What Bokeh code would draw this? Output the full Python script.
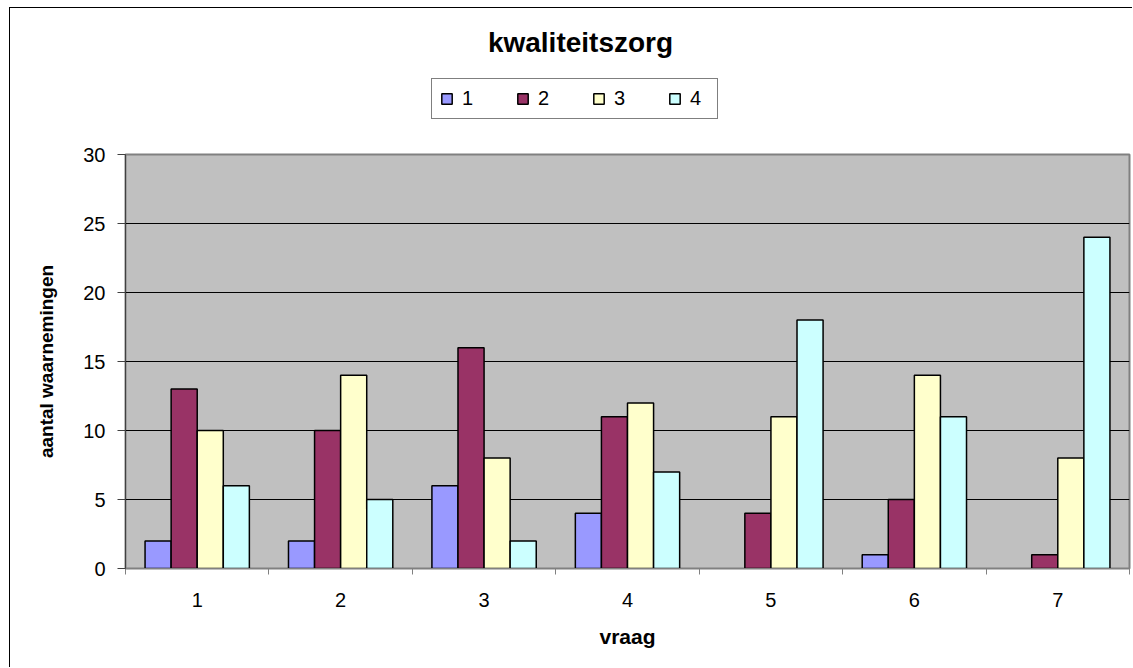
from bokeh.plotting import figure
from bokeh.models import ColumnDataSource, Range1d, FixedTicker, Legend, LegendItem, Label, Spacer
from bokeh.layouts import column, row
from bokeh.transform import dodge
from bokeh.embed import file_html
from bokeh.resources import INLINE

questions = [1, 2, 3, 4, 5, 6, 7]
series_names = ["1", "2", "3", "4"]
s1 = [2, 2, 6, 4, 0, 1, 0]
s2 = [13, 10, 16, 11, 4, 5, 1]
s3 = [10, 14, 8, 12, 11, 14, 8]
s4 = [6, 5, 2, 7, 18, 11, 24]
y_ticks = [0, 5, 10, 15, 20, 25, 30]
colors = ["#9999FF", "#993366", "#FFFFCC", "#CCFFFF"]
keys = ["s1", "s2", "s3", "s4"]

FONT = "Liberation Sans"

data = dict(x=questions, s1=s1, s2=s2, s3=s3, s4=s4)
for k in keys:
    data[k + "_la"] = [0 if v == 0 else 1 for v in data[k]]
src = ColumnDataSource(data)

w = 1 / 5.5

# ---------- header figure: title + legend ----------
top = figure(width=1123, height=132, x_range=Range1d(0.5, 7.5), y_range=Range1d(1000, 1001),
             output_backend="svg", toolbar_location=None,
             x_axis_type=None, y_axis_type=None,
             min_border_left=0, min_border_right=0, min_border_top=0, min_border_bottom=0)
top.outline_line_color = None
top.xgrid.visible = False
top.ygrid.visible = False
top.background_fill_color = "white"
top.styles = {"border-left": "1px solid #000000", "border-top": "1px solid #000000"}

leg_renderers = []
for i, (key, c) in enumerate(zip(keys, colors)):
    r = top.vbar(x=dodge("x", (i - 1.5) * w, range=top.x_range), top=key, width=w, source=src,
                 fill_color=c, line_color="black", line_width=1.5)
    leg_renderers.append(r)

top.add_layout(Label(x=455, y=98, x_units="screen", y_units="screen", text="kwaliteitszorg",
                     text_font=FONT, text_font_size="28px", text_font_style="bold",
                     text_color="black", text_align="center", text_baseline="middle"))

legend = Legend(items=[LegendItem(label=n, renderers=[r]) for n, r in zip(series_names, leg_renderers)],
                orientation="horizontal", location=(306, 21))
legend.margin = 0
legend.label_text_font = FONT
legend.label_text_font_size = "20px"
legend.label_text_color = "black"
legend.glyph_width = 13
legend.glyph_height = 13
legend.label_standoff = 9
legend.label_width = 19
legend.label_height = 18
legend.spacing = 35
legend.padding = 8
legend.border_line_color = "black"
legend.border_line_width = 1
legend.background_fill_color = "white"
legend.background_fill_alpha = 1
top.add_layout(legend, "center")

# ---------- main chart ----------
p = figure(width=1123, height=528,
           x_range=Range1d(0.5, 7.5), y_range=Range1d(0, 30),
           output_backend="svg", toolbar_location=None,
           min_border_left=115, min_border_right=4,
           min_border_top=15, min_border_bottom=99)

p.background_fill_color = "#C0C0C0"
p.border_fill_color = "white"
p.outline_line_color = "#808080"
p.outline_line_width = 2
p.styles = {"border-left": "1px solid #000000"}

for i, (key, c) in enumerate(zip(keys, colors)):
    p.vbar(x=dodge("x", (i - 1.5) * w, range=p.x_range), top=key, width=w, source=src,
           fill_color=c, line_color="black", line_width=1.5, line_alpha=key + "_la")

# y axis
ya = p.yaxis[0]
ya.ticker = FixedTicker(ticks=y_ticks)
ya.axis_label = "aantal waarnemingen"
ya.axis_label_text_font = FONT
ya.axis_label_text_font_size = "19px"
ya.axis_label_text_font_style = "bold"
ya.axis_label_text_color = "black"
ya.axis_label_standoff = 23
ya.major_label_text_font = FONT
ya.major_label_text_font_size = "20px"
ya.major_label_text_color = "black"
ya.major_label_standoff = 12
ya.major_tick_out = 8
ya.major_tick_in = 0
ya.minor_tick_line_color = None
ya.axis_line_color = "#404040"
ya.major_tick_line_color = "#404040"

# x axis
boundaries = [q - 0.5 for q in questions] + [questions[-1] + 0.5]
xa = p.xaxis[0]
xa.ticker = FixedTicker(ticks=questions, minor_ticks=boundaries)
xa.axis_label = "vraag"
xa.axis_label_text_font = FONT
xa.axis_label_text_font_size = "21px"
xa.axis_label_text_font_style = "bold"
xa.axis_label_text_color = "black"
xa.axis_label_standoff = 15
xa.major_label_text_font = FONT
xa.major_label_text_font_size = "20px"
xa.major_label_text_color = "black"
xa.major_label_standoff = 18
xa.major_tick_line_color = None
xa.major_tick_out = 0
xa.major_tick_in = 0
xa.minor_tick_out = 6
xa.minor_tick_in = 0
xa.minor_tick_line_color = "#808080"
xa.axis_line_color = "#808080"

p.xgrid.grid_line_color = None
p.ygrid.ticker = FixedTicker(ticks=y_ticks)
p.ygrid.grid_line_color = "black"
p.ygrid.grid_line_width = 1

layout = row(Spacer(width=9), column(Spacer(height=7), top, p))

open("out.html", "w").write(file_html(layout, INLINE))
